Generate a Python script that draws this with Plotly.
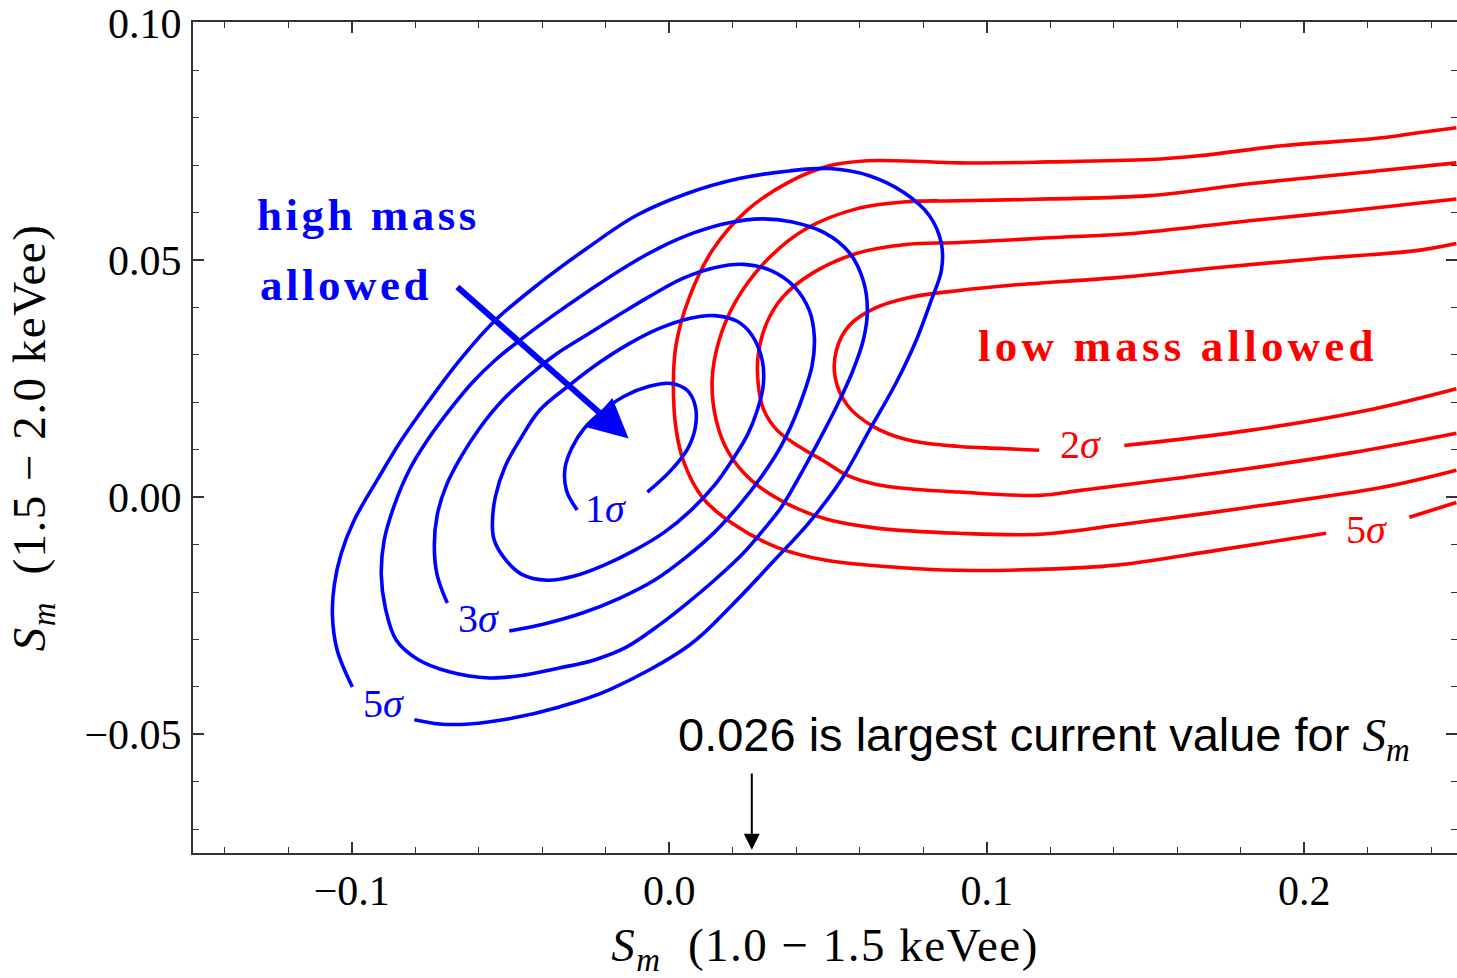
import plotly.graph_objects as go

# ---- data (Sm 1.0-1.5 keVee vs Sm 1.5-2.0 keVee) ----
blue_1s_x = [-0.0290, -0.0324, -0.0328, -0.0306, -0.0268, -0.0211, -0.0142, -0.0063, 0.0006, 0.0057, 0.0082, 0.0082, 0.0057, 0.0000, -0.0069]
blue_1s_y = [-0.0027, 0.0015, 0.0063, 0.0105, 0.0145, 0.0181, 0.0213, 0.0234, 0.0240, 0.0225, 0.0192, 0.0147, 0.0101, 0.0053, 0.0011]

blue_2s_x = [-0.0557, -0.0548, -0.0517, -0.0466, -0.0409, -0.0315, -0.0220, -0.0126, -0.0031, 0.0063, 0.0142, 0.0214, 0.0261, 0.0293, 0.0296, 0.0277, 0.0246, 0.0198, 0.0142, 0.0069, -0.0016, -0.0110, -0.0205, -0.0299, -0.0384, -0.0466, -0.0520, -0.0551, -0.0557]
blue_2s_y = [-0.0063, 0.0000, 0.0065, 0.0126, 0.0183, 0.0236, 0.0284, 0.0324, 0.0356, 0.0377, 0.0383, 0.0371, 0.0341, 0.0288, 0.0236, 0.0183, 0.0131, 0.0078, 0.0025, -0.0027, -0.0074, -0.0112, -0.0143, -0.0166, -0.0175, -0.0162, -0.0128, -0.0091, -0.0063]

blue_3s_x = [-0.0699, -0.0731, -0.0740, -0.0731, -0.0702, -0.0655, -0.0598, -0.0526, -0.0447, -0.0362, -0.0268, -0.0167, -0.0063, 0.0041, 0.0142, 0.0236, 0.0321, 0.0394, 0.0441, 0.0457, 0.0450, 0.0425, 0.0394, 0.0353, 0.0293, 0.0220, 0.0142, 0.0057, -0.0047, -0.0157, -0.0274, -0.0394, -0.0504]
blue_3s_y = [-0.0223, -0.0164, -0.0101, -0.0038, 0.0025, 0.0086, 0.0145, 0.0204, 0.0253, 0.0299, 0.0339, 0.0381, 0.0423, 0.0461, 0.0484, 0.0491, 0.0478, 0.0444, 0.0394, 0.0337, 0.0278, 0.0221, 0.0166, 0.0109, 0.0046, -0.0017, -0.0074, -0.0124, -0.0175, -0.0213, -0.0244, -0.0267, -0.0282]

blue_4s_x = [-0.0860, -0.0894, -0.0907, -0.0898, -0.0866, -0.0819, -0.0762, -0.0693, -0.0620, -0.0545, -0.0463, -0.0362, -0.0252, -0.0142, -0.0031, 0.0079, 0.0189, 0.0290, 0.0384, 0.0488, 0.0567, 0.0611, 0.0624, 0.0611, 0.0576, 0.0529, 0.0472, 0.0416, 0.0353, 0.0290, 0.0233, 0.0142, 0.0057, -0.0031, -0.0135, -0.0236, -0.0346, -0.0457, -0.0567, -0.0693, -0.0794, -0.0860]
blue_4s_y = [-0.0301, -0.0234, -0.0164, -0.0091, -0.0017, 0.0057, 0.0120, 0.0183, 0.0242, 0.0291, 0.0335, 0.0385, 0.0436, 0.0484, 0.0526, 0.0558, 0.0579, 0.0587, 0.0581, 0.0558, 0.0516, 0.0457, 0.0394, 0.0331, 0.0263, 0.0194, 0.0120, 0.0051, -0.0021, -0.0074, -0.0118, -0.0175, -0.0223, -0.0269, -0.0316, -0.0343, -0.0360, -0.0375, -0.0381, -0.0368, -0.0341, -0.0301]

blue_5s_x = [-0.0998, -0.1046, -0.1061, -0.1055, -0.1033, -0.0992, -0.0920, -0.0844, -0.0756, -0.0661, -0.0551, -0.0409, -0.0261, -0.0104, 0.0054, 0.0220, 0.0378, 0.0504, 0.0630, 0.0740, 0.0819, 0.0857, 0.0857, 0.0825, 0.0778, 0.0715, 0.0630, 0.0545, 0.0441, 0.0331, 0.0198, 0.0063, -0.0189, -0.0346, -0.0504, -0.0630, -0.0724, -0.0803]
blue_5s_y = [-0.0400, -0.0322, -0.0248, -0.0185, -0.0118, -0.0048, 0.0036, 0.0120, 0.0204, 0.0288, 0.0371, 0.0451, 0.0524, 0.0594, 0.0640, 0.0672, 0.0688, 0.0693, 0.0678, 0.0642, 0.0594, 0.0535, 0.0478, 0.0415, 0.0331, 0.0242, 0.0141, 0.0040, -0.0053, -0.0133, -0.0227, -0.0312, -0.0406, -0.0442, -0.0467, -0.0478, -0.0478, -0.0469]

red_2s_x = [0.2479, 0.2353, 0.2038, 0.1723, 0.1408, 0.1093, 0.0913, 0.0756, 0.0646, 0.0567, 0.0526, 0.0523, 0.0561, 0.0643, 0.0756, 0.0913, 0.1039, 0.1165, None, 0.1433, 0.1827, 0.2195, 0.2479]
red_2s_y = [0.0535, 0.0520, 0.0503, 0.0484, 0.0463, 0.0448, 0.0436, 0.0421, 0.0398, 0.0362, 0.0309, 0.0251, 0.0194, 0.0149, 0.0120, 0.0107, 0.0103, 0.0099, None, 0.0109, 0.0141, 0.0183, 0.0229]

red_3s_x = [0.2479, 0.2142, 0.1827, 0.1458, 0.1197, 0.0913, 0.0746, 0.0589, 0.0450, 0.0356, 0.0306, 0.0280, 0.0280, 0.0296, 0.0340, 0.0409, 0.0488, 0.0561, 0.0652, 0.0772, 0.0913, 0.1165, 0.1301, 0.1723, 0.2142, 0.2479]
red_3s_y = [0.0629, 0.0604, 0.0583, 0.0556, 0.0547, 0.0537, 0.0533, 0.0514, 0.0472, 0.0421, 0.0366, 0.0299, 0.0240, 0.0187, 0.0141, 0.0107, 0.0076, 0.0046, 0.0027, 0.0017, 0.0011, 0.0004, 0.0015, 0.0051, 0.0093, 0.0135]

red_4s_x = [0.2479, 0.2142, 0.1827, 0.1512, 0.1197, 0.0913, 0.0746, 0.0589, 0.0431, 0.0306, 0.0211, 0.0157, 0.0135, 0.0148, 0.0186, 0.0258, 0.0369, 0.0494, 0.0652, 0.0913, 0.1165, 0.1408, 0.1827, 0.2246, 0.2479]
red_4s_y = [0.0705, 0.0682, 0.0661, 0.0636, 0.0629, 0.0625, 0.0623, 0.0608, 0.0566, 0.0499, 0.0415, 0.0331, 0.0246, 0.0162, 0.0095, 0.0036, -0.0013, -0.0046, -0.0065, -0.0076, -0.0078, -0.0059, -0.0021, 0.0021, 0.0057]

red_5s_x = [0.2479, 0.2353, 0.2246, 0.1931, 0.1669, 0.1512, 0.1197, 0.0913, 0.0740, 0.0614, 0.0504, 0.0378, 0.0243, 0.0135, 0.0063, 0.0022, 0.0013, 0.0022, 0.0047, 0.0104, 0.0198, 0.0337, 0.0494, 0.0702, 0.0913, 0.1165, 0.1408, 0.1723, 0.2069, None, 0.2331, 0.2479]
red_5s_y = [0.0779, 0.0768, 0.0758, 0.0741, 0.0720, 0.0712, 0.0707, 0.0705, 0.0709, 0.0709, 0.0699, 0.0665, 0.0604, 0.0520, 0.0421, 0.0324, 0.0240, 0.0141, 0.0072, 0.0000, -0.0055, -0.0105, -0.0133, -0.0147, -0.0154, -0.0152, -0.0143, -0.0112, -0.0076, None, -0.0042, -0.0011]

x_tick_vals = [-0.1, 0.0, 0.1, 0.2]
y_tick_vals = [-0.05, 0.0, 0.05, 0.10]
largest_current_sm = 0.026

BLUE = "#0000FF"
RED = "#FF0000"
SERIF = "Liberation Serif"
FRAME = "#333333"

fig = go.Figure()

blue_curves = [(blue_1s_x, blue_1s_y), (blue_2s_x, blue_2s_y), (blue_3s_x, blue_3s_y),
               (blue_4s_x, blue_4s_y), (blue_5s_x, blue_5s_y)]
red_curves = [(red_2s_x, red_2s_y), (red_3s_x, red_3s_y), (red_4s_x, red_4s_y), (red_5s_x, red_5s_y)]

for cx, cy in red_curves:
    fig.add_trace(go.Scatter(x=cx, y=cy, mode="lines",
                             line=dict(color=RED, width=3.6, shape="spline", smoothing=1.0),
                             connectgaps=False, showlegend=False, hoverinfo="skip"))
for cx, cy in blue_curves:
    fig.add_trace(go.Scatter(x=cx, y=cy, mode="lines",
                             line=dict(color=BLUE, width=3.6, shape="spline", smoothing=1.0),
                             connectgaps=False, showlegend=False, hoverinfo="skip"))

annotations = []
# contour labels
sig_font_b = dict(family=SERIF, size=40, color=BLUE)
sig_font_r = dict(family=SERIF, size=40, color=RED)
for txt, x, y, f in [("1<i>σ</i>", -0.0200, -0.0023, sig_font_b),
                     ("3<i>σ</i>", -0.0600, -0.0255, sig_font_b),
                     ("5<i>σ</i>", -0.0899, -0.0434, sig_font_b),
                     ("2<i>σ</i>", 0.1296, 0.0112, sig_font_r),
                     ("5<i>σ</i>", 0.2197, -0.0069, sig_font_r)]:
    annotations.append(dict(x=x, y=y, xref="x", yref="y", text=txt, showarrow=False, font=f,
                            xanchor="center", yanchor="middle"))

# region labels (letter-spaced bold serif)
annotations.append(dict(x=-0.1305, y=0.0596, xref="x", yref="y",
                        text="<span style='letter-spacing:3.5px'><b>high mass</b></span>", showarrow=False,
                        font=dict(family=SERIF, size=45, color=BLUE), xanchor="left", yanchor="middle"))
annotations.append(dict(x=-0.1296, y=0.0448, xref="x", yref="y",
                        text="<span style='letter-spacing:3.5px'><b>allowed</b></span>", showarrow=False,
                        font=dict(family=SERIF, size=45, color=BLUE), xanchor="left", yanchor="middle"))
annotations.append(dict(x=0.0966, y=0.0318, xref="x", yref="y",
                        text="<span style='letter-spacing:4.2px'><b>low mass allowed</b></span>", showarrow=False,
                        font=dict(family=SERIF, size=45, color=RED), xanchor="left", yanchor="middle"))

# blue arrow
annotations.append(dict(x=-0.0128, y=0.0124, ax=-0.0672, ay=0.0446, xref="x", yref="y", axref="x", ayref="y",
                        text="", showarrow=True, arrowhead=2, arrowsize=1.3, arrowwidth=6, arrowcolor=BLUE))

# current value annotation
annotations.append(dict(x=0.0020, y=-0.0508, xref="x", yref="y",
                        text="0.026 is largest current value for <span style='font-family:Liberation Serif'><i>S</i><sub><i>m</i></sub></span>",
                        showarrow=False, font=dict(family="Liberation Sans", size=47, color="black"),
                        xanchor="left", yanchor="middle"))
annotations.append(dict(x=largest_current_sm, y=-0.0743, ax=largest_current_sm, ay=-0.0579,
                        xref="x", yref="y", axref="x", ayref="y", text="", showarrow=True,
                        arrowhead=2, arrowsize=1.6, arrowwidth=2, arrowcolor="black"))

axis_common = dict(
    showgrid=False, zeroline=False, showline=True, linecolor=FRAME, linewidth=2,
    mirror="allticks", ticks="inside", ticklen=11, tickwidth=1.5, tickcolor=FRAME,
    tickfont=dict(family=SERIF, size=42, color="black"), automargin=False,
)

fig.update_layout(
    width=1457, height=978,
    margin=dict(l=193, r=0, t=22, b=125),
    paper_bgcolor="white", plot_bgcolor="white",
    annotations=annotations,
    xaxis=dict(range=[-0.15, 0.2481], tickvals=x_tick_vals, tickformat=".1f",
               minor=dict(dtick=0.02, tick0=0, ticks="inside", ticklen=6, tickwidth=1.2, tickcolor=FRAME),
               ticklabelstandoff=0,
               title=dict(text="<span style='letter-spacing:1.5px'><i>S</i><sub><i>m</i></sub>  (1.0 − 1.5 keVee)</span>",
                          font=dict(family=SERIF, size=47, color="black"), standoff=36),
               **axis_common),
    yaxis=dict(range=[-0.075, 0.1002], tickvals=y_tick_vals, tickformat=".2f",
               minor=dict(dtick=0.01, tick0=0, ticks="inside", ticklen=6, tickwidth=1.2, tickcolor=FRAME),
               ticklabelstandoff=1,
               title=dict(text="<span style='letter-spacing:1.5px'><i>S</i><sub><i>m</i></sub>  (1.5 − 2.0 keVee)</span>",
                          font=dict(family=SERIF, size=47, color="black"), standoff=24),
               **axis_common),
)

fig.write_html("out.html")
